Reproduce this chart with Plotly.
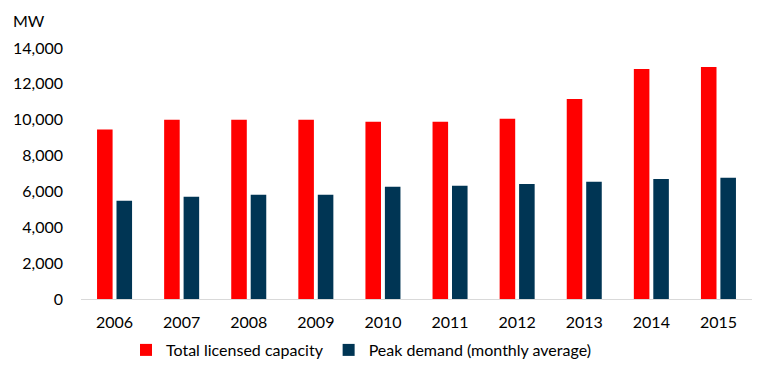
import plotly.graph_objects as go

years = ["2006", "2007", "2008", "2009", "2010", "2011", "2012", "2013", "2014", "2015"]
licensed_capacity = [9450, 10000, 10000, 10000, 9880, 9880, 10050, 11160, 12830, 12940]
peak_demand = [5480, 5700, 5810, 5810, 6260, 6310, 6420, 6540, 6700, 6760]

font = "Lato, 'Open Sans', Arial, sans-serif"

fig = go.Figure()
fig.add_trace(go.Bar(x=years, y=licensed_capacity, name="Total licensed capacity",
                     marker=dict(color="#FF0000", line=dict(width=0))))
fig.add_trace(go.Bar(x=years, y=peak_demand, name="Peak demand (monthly average)",
                     marker=dict(color="#003554", line=dict(width=0))))

fig.update_layout(
    width=775, height=381,
    margin=dict(l=81, r=23, t=48, b=82, autoexpand=False),
    paper_bgcolor="white", plot_bgcolor="white",
    barmode="group", bargap=0.42, bargroupgap=0.2,
    font=dict(family=font, size=16, color="#000000"),
    showlegend=True,
    legend=dict(orientation="h", xref="container", yref="container",
                x=126 / 775, xanchor="left", y=1 - 350 / 381, yanchor="middle",
                font=dict(size=16), itemwidth=30, traceorder="normal"),
    xaxis=dict(showgrid=False, showline=True, linecolor="#D9D9D9", linewidth=1,
               ticks="", tickfont=dict(size=16), automargin=False,
               ticklabelstandoff=9),
    yaxis=dict(range=[0, 14000], dtick=2000, tickformat=",", showgrid=False,
               showline=False, zeroline=False, ticks="", ticklen=0,
               tickfont=dict(size=16), automargin=False, ticklabelstandoff=17),
    annotations=[dict(text="MW", xref="paper", yref="paper", x=(11 - 81) / 671,
                      y=(299 - 20) / 251, xanchor="left", yanchor="middle",
                      showarrow=False, font=dict(size=16))],
)

fig.write_html("out.html", config={"displayModeBar": False},
               post_script="document.body.style.margin='0';document.body.style.padding='0';")
